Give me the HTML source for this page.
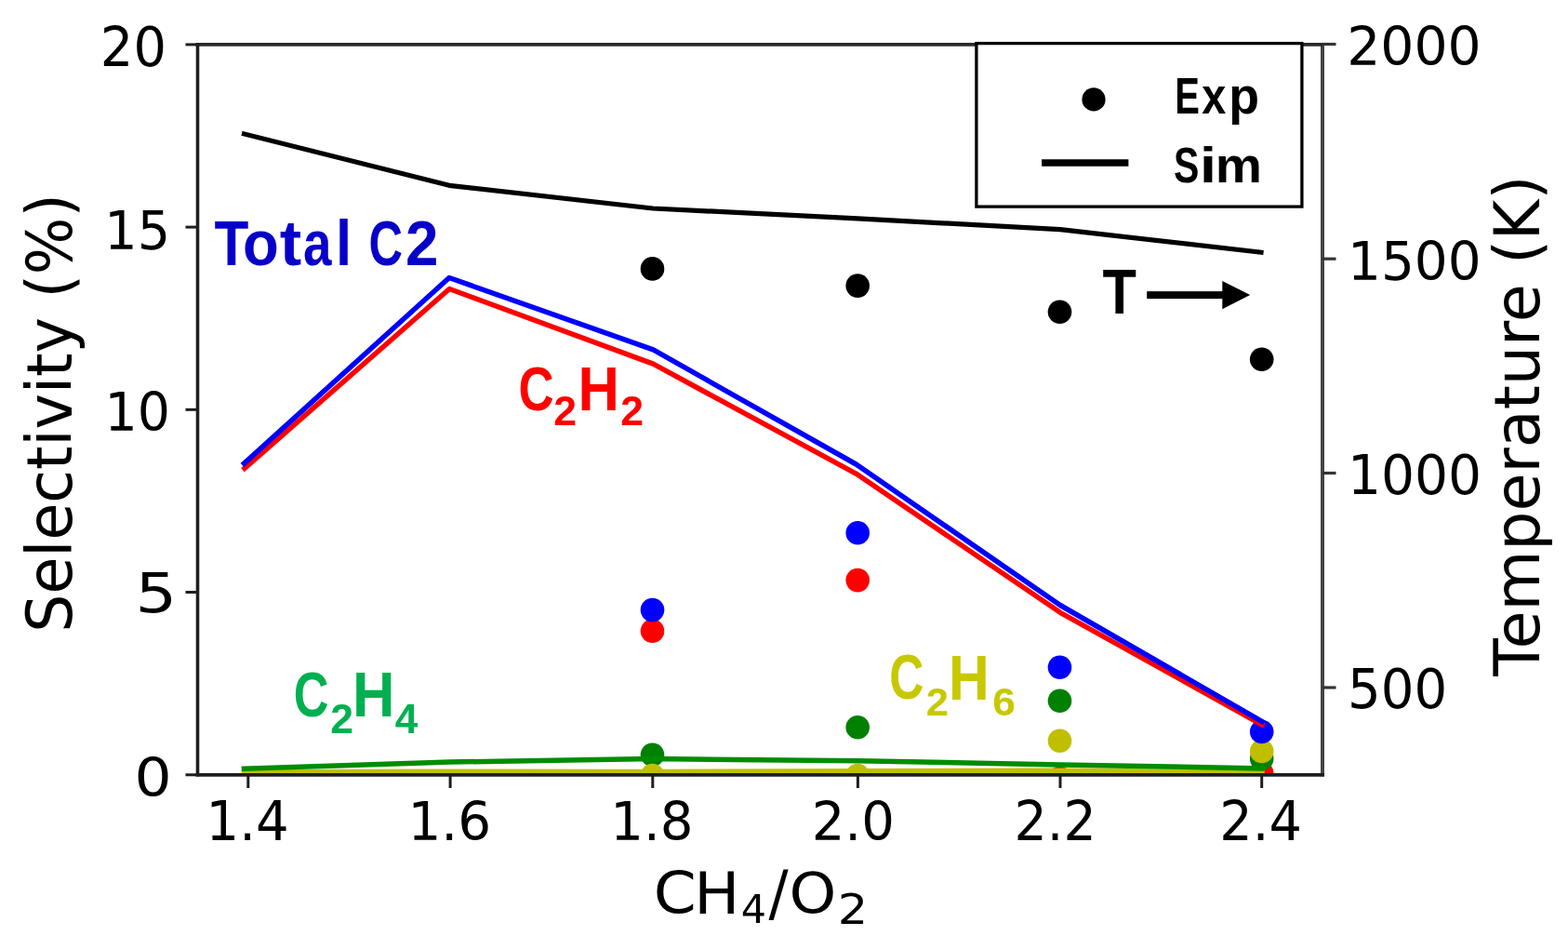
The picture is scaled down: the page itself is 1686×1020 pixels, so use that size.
<!DOCTYPE html>
<html><head><meta charset="utf-8"><title>Selectivity vs CH4/O2</title>
<style>html,body{margin:0;padding:0;background:#fff;}svg{display:block;}</style>
</head><body>
<svg width="1686" height="1020" viewBox="0 0 1686 1020">
<rect width="1686" height="1020" fill="#fff"/>
<defs><clipPath id="ax"><rect x="212.5" y="47.9" width="1209.5" height="784.9"/></clipPath></defs>
<g clip-path="url(#ax)">
<circle cx="701.5" cy="678.2" r="12.8" fill="#ff0000"/>
<circle cx="922.2" cy="623.6" r="12.8" fill="#ff0000"/>
<circle cx="1139.5" cy="836.5" r="12.8" fill="#ff0000"/>
<circle cx="1356.7" cy="831.0" r="12.8" fill="#ff0000"/>
<circle cx="701.5" cy="811.2" r="12.8" fill="#008000"/>
<circle cx="922.2" cy="781.7" r="12.8" fill="#008000"/>
<circle cx="1139.5" cy="753.2" r="12.8" fill="#008000"/>
<circle cx="1356.7" cy="815.5" r="12.8" fill="#008000"/>
<circle cx="701.5" cy="833.5" r="12.8" fill="#bfbf00"/>
<circle cx="922.2" cy="833.5" r="12.8" fill="#bfbf00"/>
<circle cx="1139.5" cy="796.3" r="12.8" fill="#bfbf00"/>
<circle cx="1356.7" cy="807.5" r="12.8" fill="#bfbf00"/>
<circle cx="701.5" cy="655.6" r="12.8" fill="#0000ff"/>
<circle cx="922.2" cy="572.8" r="12.8" fill="#0000ff"/>
<circle cx="1139.5" cy="717.2" r="12.8" fill="#0000ff"/>
<circle cx="1356.7" cy="786.5" r="12.8" fill="#0000ff"/>
<polyline points="263.0,503.3 483.2,310.5 702.4,391.2 920.5,509.1 1140.0,658.3 1357.0,779.0" fill="none" stroke="#ff0000" stroke-width="5.5" stroke-linejoin="round" stroke-linecap="square"/>
<polyline points="262.5,829.8 484.0,829.2 702.0,829.4 922.0,828.7 1140.0,828.3 1357.0,829.9" fill="none" stroke="#bfbf00" stroke-width="5.5" stroke-linejoin="round" stroke-linecap="square"/>
<polyline points="262.5,826.2 484.0,819.0 702.0,815.6 922.0,817.8 1140.0,821.9 1357.0,825.9" fill="none" stroke="#008c00" stroke-width="5.5" stroke-linejoin="round" stroke-linecap="square"/>
<polyline points="262.5,498.0 483.0,298.5 702.4,375.9 920.5,499.0 1140.0,650.5 1357.0,775.5" fill="none" stroke="#0000ff" stroke-width="5.5" stroke-linejoin="round" stroke-linecap="square"/>
<polyline points="262.5,143.9 483.0,199.3 702.0,224.0 922.0,234.8 1140.0,246.7 1356.0,271.2" fill="none" stroke="#000" stroke-width="5.2" stroke-linejoin="round" stroke-linecap="square"/>
<circle cx="701.5" cy="288.9" r="12.8" fill="#000"/>
<circle cx="922.2" cy="307.1" r="12.8" fill="#000"/>
<circle cx="1139.5" cy="335.3" r="12.8" fill="#000"/>
<circle cx="1356.7" cy="386.2" r="12.8" fill="#000"/>
</g>
<line x1="1422.0" y1="46.4" x2="1422.0" y2="834.3" stroke="#444" stroke-width="4"/>
<line x1="210.5" y1="47.9" x2="1422.0" y2="47.9" stroke="#2a2a2a" stroke-width="3.6"/>
<line x1="210.5" y1="832.8" x2="1424.0" y2="832.8" stroke="#1e1e1e" stroke-width="3.8"/>
<line x1="212.5" y1="46.4" x2="212.5" y2="834.3" stroke="#1e1e1e" stroke-width="3.6"/>
<line x1="199.5" y1="47.9" x2="212.5" y2="47.9" stroke="#1e1e1e" stroke-width="3.0"/>
<line x1="199.5" y1="244.1" x2="212.5" y2="244.1" stroke="#1e1e1e" stroke-width="3.0"/>
<line x1="199.5" y1="440.3" x2="212.5" y2="440.3" stroke="#1e1e1e" stroke-width="3.0"/>
<line x1="199.5" y1="636.5" x2="212.5" y2="636.5" stroke="#1e1e1e" stroke-width="3.0"/>
<line x1="199.5" y1="832.8" x2="212.5" y2="832.8" stroke="#1e1e1e" stroke-width="3.0"/>
<line x1="266.8" y1="832.8" x2="266.8" y2="847.0" stroke="#1e1e1e" stroke-width="3.0"/>
<line x1="484.1" y1="832.8" x2="484.1" y2="847.0" stroke="#1e1e1e" stroke-width="3.0"/>
<line x1="701.8" y1="832.8" x2="701.8" y2="847.0" stroke="#1e1e1e" stroke-width="3.0"/>
<line x1="922.4" y1="832.8" x2="922.4" y2="847.0" stroke="#1e1e1e" stroke-width="3.0"/>
<line x1="1140.0" y1="832.8" x2="1140.0" y2="847.0" stroke="#1e1e1e" stroke-width="3.0"/>
<line x1="1356.7" y1="832.8" x2="1356.7" y2="847.0" stroke="#1e1e1e" stroke-width="3.0"/>
<line x1="1422.0" y1="47.5" x2="1436.5" y2="47.5" stroke="#333" stroke-width="3.2"/>
<line x1="1422.0" y1="278.2" x2="1436.5" y2="278.2" stroke="#333" stroke-width="3.2"/>
<line x1="1422.0" y1="508.5" x2="1436.5" y2="508.5" stroke="#333" stroke-width="3.2"/>
<line x1="1422.0" y1="739.0" x2="1436.5" y2="739.0" stroke="#333" stroke-width="3.2"/>
<text transform="translate(107.85 70.73) scale(0.9639 1)" font-family='"DejaVu Sans", sans-serif' font-weight="normal" font-size="57.95" fill="#000">20</text>
<text transform="translate(112.28 268.14) scale(0.9699 1)" font-family='"DejaVu Sans", sans-serif' font-weight="normal" font-size="57.32" fill="#000">15</text>
<text transform="translate(112.61 462.55) scale(0.9828 1)" font-family='"DejaVu Sans", sans-serif' font-weight="normal" font-size="56.37" fill="#000">10</text>
<text transform="translate(145.55 658.32) scale(1.1924 1)" font-family='"DejaVu Sans", sans-serif' font-weight="normal" font-size="58.93" fill="#000">5</text>
<text transform="translate(144.39 855.54) scale(1.1025 1)" font-family='"DejaVu Sans", sans-serif' font-weight="normal" font-size="57.29" fill="#000">0</text>
<text transform="translate(221.53 903.20) scale(0.9431 1)" font-family='"DejaVu Sans", sans-serif' font-weight="normal" font-size="59.45" fill="#000">1.4</text>
<text transform="translate(438.38 902.54) scale(0.9863 1)" font-family='"DejaVu Sans", sans-serif' font-weight="normal" font-size="57.29" fill="#000">1.6</text>
<text transform="translate(656.22 902.54) scale(0.9811 1)" font-family='"DejaVu Sans", sans-serif' font-weight="normal" font-size="57.29" fill="#000">1.8</text>
<text transform="translate(872.63 902.54) scale(0.9793 1)" font-family='"DejaVu Sans", sans-serif' font-weight="normal" font-size="57.29" fill="#000">2.0</text>
<text transform="translate(1090.58 903.40) scale(0.9487 1)" font-family='"DejaVu Sans", sans-serif' font-weight="normal" font-size="58.45" fill="#000">2.2</text>
<text transform="translate(1311.26 903.40) scale(0.9534 1)" font-family='"DejaVu Sans", sans-serif' font-weight="normal" font-size="58.45" fill="#000">2.4</text>
<text transform="translate(1448.18 70.34) scale(0.9865 1)" font-family='"DejaVu Sans", sans-serif' font-weight="normal" font-size="57.56" fill="#000">2000</text>
<text transform="translate(1448.99 300.84) scale(0.9809 1)" font-family='"DejaVu Sans", sans-serif' font-weight="normal" font-size="57.56" fill="#000">1500</text>
<text transform="translate(1448.97 531.33) scale(0.9726 1)" font-family='"DejaVu Sans", sans-serif' font-weight="normal" font-size="58.22" fill="#000">1000</text>
<text transform="translate(1448.95 761.33) scale(0.9644 1)" font-family='"DejaVu Sans", sans-serif' font-weight="normal" font-size="58.22" fill="#000">500</text>
<text transform="translate(702.67 981.47) scale(1.0604 1)" font-family='"DejaVu Sans", sans-serif' font-weight="normal" font-size="62.18" fill="#000">C</text>
<text transform="translate(746.23 982.00) scale(1.0361 1)" font-family='"DejaVu Sans", sans-serif' font-weight="normal" font-size="63.01" fill="#000">H</text>
<text transform="translate(796.76 992.30) scale(1.0251 1)" font-family='"DejaVu Sans", sans-serif' font-weight="normal" font-size="41.78" fill="#000">4</text>
<text transform="translate(826.60 982.93) scale(0.9568 1)" font-family='"DejaVu Sans", sans-serif' font-weight="normal" font-size="65.65" fill="#000">/</text>
<text transform="translate(848.45 981.09) scale(1.0591 1)" font-family='"DejaVu Sans", sans-serif' font-weight="normal" font-size="60.99" fill="#000">O</text>
<text transform="translate(900.70 993.20) scale(1.1586 1)" font-family='"DejaVu Sans", sans-serif' font-weight="normal" font-size="44.04" fill="#000">2</text>
<text transform="translate(76.97 679.82) rotate(-90) scale(0.9608 1)" font-family='"DejaVu Sans", sans-serif' font-size="67.60" fill="#000">Selectivity (%)</text>
<text transform="translate(1655.46 726.83) rotate(-90) scale(0.9909 1)" font-family='"DejaVu Sans", sans-serif' font-size="67.18" fill="#000">Temperature (K)</text>
<text transform="translate(230.60 284.80) scale(0.8902 1)" font-family='"Liberation Sans", Arial, sans-serif' font-weight="bold" font-size="67.78" fill="#0800c8">T</text>
<text transform="translate(261.06 284.80) scale(0.9364 1)" font-family='"Liberation Sans", Arial, sans-serif' font-weight="bold" font-size="67.78" fill="#0800c8">o</text>
<text transform="translate(300.82 284.80) scale(1.0411 1)" font-family='"Liberation Sans", Arial, sans-serif' font-weight="bold" font-size="67.78" fill="#0800c8">t</text>
<text transform="translate(325.95 284.80) scale(0.8090 1)" font-family='"Liberation Sans", Arial, sans-serif' font-weight="bold" font-size="67.78" fill="#0800c8">a</text>
<text transform="translate(360.97 284.80) scale(0.9120 1)" font-family='"Liberation Sans", Arial, sans-serif' font-weight="bold" font-size="67.78" fill="#0800c8">l</text>
<text transform="translate(396.38 284.80) scale(0.7455 1)" font-family='"Liberation Sans", Arial, sans-serif' font-weight="bold" font-size="67.78" fill="#0800c8">C</text>
<text transform="translate(436.07 284.80) scale(0.9405 1)" font-family='"Liberation Sans", Arial, sans-serif' font-weight="bold" font-size="67.78" fill="#0800c8">2</text>
<text transform="translate(557.59 440.83) scale(0.7868 1)" font-family='"Liberation Sans", Arial, sans-serif' font-weight="bold" font-size="67.14" fill="#ff0000">C</text>
<text transform="translate(595.14 457.10) scale(0.9935 1)" font-family='"Liberation Sans", Arial, sans-serif' font-weight="bold" font-size="44.87" fill="#ff0000">2</text>
<text transform="translate(621.45 441.00) scale(0.9184 1)" font-family='"Liberation Sans", Arial, sans-serif' font-weight="bold" font-size="66.91" fill="#ff0000">H</text>
<text transform="translate(667.24 457.10) scale(0.9935 1)" font-family='"Liberation Sans", Arial, sans-serif' font-weight="bold" font-size="44.87" fill="#ff0000">2</text>
<text transform="translate(315.71 769.82) scale(0.7632 1)" font-family='"Liberation Sans", Arial, sans-serif' font-weight="bold" font-size="68.41" fill="#00b050">C</text>
<text transform="translate(355.14 788.10) scale(0.9903 1)" font-family='"Liberation Sans", Arial, sans-serif' font-weight="bold" font-size="45.02" fill="#00b050">2</text>
<text transform="translate(379.05 769.60) scale(0.9311 1)" font-family='"Liberation Sans", Arial, sans-serif' font-weight="bold" font-size="67.64" fill="#00b050">H</text>
<text transform="translate(424.84 787.60) scale(1.0018 1)" font-family='"Liberation Sans", Arial, sans-serif' font-weight="bold" font-size="44.22" fill="#00b050">4</text>
<text transform="translate(956.24 751.22) scale(0.7599 1)" font-family='"Liberation Sans", Arial, sans-serif' font-weight="bold" font-size="67.70" fill="#c8c800">C</text>
<text transform="translate(995.68 769.00) scale(1.0157 1)" font-family='"Liberation Sans", Arial, sans-serif' font-weight="bold" font-size="42.87" fill="#c8c800">2</text>
<text transform="translate(1020.11 751.50) scale(0.8959 1)" font-family='"Liberation Sans", Arial, sans-serif' font-weight="bold" font-size="67.64" fill="#c8c800">H</text>
<text transform="translate(1067.14 768.58) scale(1.0495 1)" font-family='"Liberation Sans", Arial, sans-serif' font-weight="bold" font-size="42.26" fill="#c8c800">6</text>
<text transform="translate(1185.60 336.60) scale(0.8821 1)" font-family='"Liberation Sans", Arial, sans-serif' font-weight="bold" font-size="67.64" fill="#000">T</text>
<rect x="1233.2" y="313.1" width="82" height="8" fill="#000"/>
<polygon points="1314.3,301.9 1344.2,316.9 1314.3,332.3" fill="#000"/>
<rect x="1049.9" y="46.6" width="350.0" height="175.5" fill="#fff" stroke="#000" stroke-width="3.3"/>
<circle cx="1176.0" cy="106.9" r="12.6" fill="#000"/>
<line x1="1120.1" y1="175.0" x2="1213.4" y2="175.0" stroke="#000" stroke-width="7.5"/>
<text transform="translate(1263.30 122.30) scale(0.7294 1)" font-family='"Liberation Sans", Arial, sans-serif' font-weight="bold" font-size="54.84" fill="#000">E</text>
<text transform="translate(1292.35 122.30) scale(0.8544 1)" font-family='"Liberation Sans", Arial, sans-serif' font-weight="bold" font-size="54.84" fill="#000">x</text>
<text transform="translate(1321.21 122.30) scale(0.9786 1)" font-family='"Liberation Sans", Arial, sans-serif' font-weight="bold" font-size="54.84" fill="#000">p</text>
<text transform="translate(1261.97 195.76) scale(0.7614 1)" font-family='"Liberation Sans", Arial, sans-serif' font-weight="bold" font-size="53.85" fill="#000">S</text>
<text transform="translate(1289.97 195.76) scale(1.2020 1)" font-family='"Liberation Sans", Arial, sans-serif' font-weight="bold" font-size="53.85" fill="#000">i</text>
<text transform="translate(1306.83 195.76) scale(1.0496 1)" font-family='"Liberation Sans", Arial, sans-serif' font-weight="bold" font-size="53.85" fill="#000">m</text>
</svg>
</body></html>
